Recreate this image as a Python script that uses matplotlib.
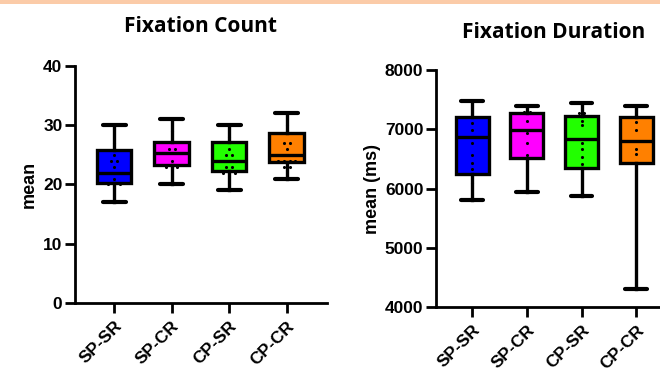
import numpy as np
import matplotlib
matplotlib.use("Agg")
import matplotlib.pyplot as plt
from matplotlib.patches import Rectangle

plt.rcParams["font.family"] = ["Liberation Sans", "DejaVu Sans"]

conditions = ["SP-SR", "SP-CR", "CP-SR", "CP-CR"]
box_colors = ["#0000FF", "#FF00FF", "#22FF00", "#FF8000"]

# Fixation count: box stats per condition
count_low = [17, 20, 19, 21]
count_q1 = [20.2, 23.3, 22.3, 23.8]
count_med = [22.0, 25.3, 24.0, 24.9]
count_q3 = [25.8, 27.2, 27.2, 28.7]
count_high = [30, 31, 30, 32]
count_points = [
    [17, 20, 20, 20, 21, 23, 24, 24, 25, 27, 30],
    [20, 23, 23, 23, 24, 26, 26, 29, 31],
    [19, 22, 22, 22, 23, 23, 25, 25, 26, 28, 30],
    [21, 23, 23, 24, 24, 24, 24, 26, 27, 27, 30, 32],
]

# Fixation duration (ms): box stats per condition
dur_low = [5800, 5937, 5881, 4310]
dur_q1 = [6250, 6514, 6345, 6429]
dur_med = [6870, 6983, 6842, 6802]
dur_q3 = [7210, 7277, 7220, 7210]
dur_high = [7475, 7395, 7446, 7395]
dur_points = [
    [5800, 6096, 6333, 6429, 6559, 6768, 6983, 7113, 7475],
    [5937, 6560, 6770, 6940, 7140, 7300, 7300, 7395],
    [5881, 6420, 6540, 6670, 6770, 7070, 7140, 7270, 7270, 7446],
    [4310, 6580, 6670, 6983, 7130, 7230, 7250, 7395],
]

LW = 2.4
TICK_FS = 12.5
TITLE_FONT = ["Open Sans", "DejaVu Sans"]


def spread(values, step=0.1):
    # spread identical values sideways so the dots stay visible
    values = np.asarray(values, dtype=float)
    offs = np.zeros(len(values))
    for v in np.unique(values):
        idx = np.where(values == v)[0]
        offs[idx] = (np.arange(len(idx)) - (len(idx) - 1) / 2) * step
    return offs


def draw_panel(ax, lows, q1s, meds, q3s, highs, points, yticks):
    stats = []
    for lo, q1, med, q3, hi in zip(lows, q1s, meds, q3s, highs):
        stats.append(dict(whislo=lo, q1=q1, med=med, q3=q3, whishi=hi, fliers=[]))
    pos = np.arange(len(stats))
    res = ax.bxp(stats, positions=pos, widths=0.6, capwidths=0.4,
                 patch_artist=True, showfliers=False,
                 boxprops=dict(linewidth=LW, edgecolor="black"),
                 whiskerprops=dict(linewidth=LW, color="black"),
                 capprops=dict(linewidth=LW + 0.6, color="black", solid_capstyle="round"),
                 medianprops=dict(linewidth=LW, color="black"))
    for patch, c in zip(res["boxes"], box_colors):
        patch.set_facecolor(c)
    for i, vals in enumerate(points):
        ax.scatter(i + spread(vals), vals, s=5, color="black", zorder=5, linewidths=0)

    ax.set_xticks(pos)
    ax.set_xticklabels(conditions, rotation=45, ha="right", rotation_mode="anchor",
                       fontsize=TICK_FS, fontweight="bold")
    ax.set_yticks(yticks)
    ax.set_yticklabels([str(t) for t in yticks], fontsize=TICK_FS, fontweight="bold")
    for side in ["top", "right"]:
        ax.spines[side].set_visible(False)
    for side in ["left", "bottom"]:
        ax.spines[side].set_linewidth(2.0)
    ax.tick_params(axis="both", width=2.0, length=7, pad=2)
    ax.tick_params(axis="x", pad=4)


fig = plt.figure(figsize=(6.6, 3.69), dpi=100)
fig.patches.append(Rectangle((0, 1 - 4 / 369), 1, 4 / 369, transform=fig.transFigure,
                             facecolor="#FBCBA8", edgecolor="none"))

ax1 = fig.add_axes([0.1136, 0.1789, 0.3819, 0.6423])
draw_panel(ax1, count_low, count_q1, count_med, count_q3, count_high, count_points,
           [0, 10, 20, 30, 40])
ax1.set_xlim(-0.68, 3.70)
ax1.set_ylim(0, 40)
ax1.set_ylabel("mean", fontsize=13, fontweight="bold", labelpad=4)
fig.text(201 / 660, 1 - 26 / 369, "Fixation Count", ha="center", va="center",
         fontsize=15, fontweight="bold", family=TITLE_FONT)

ax2 = fig.add_axes([0.6606, 0.168, 0.3614, 0.642])
draw_panel(ax2, dur_low, dur_q1, dur_med, dur_q3, dur_high, dur_points,
           [4000, 5000, 6000, 7000, 8000])
ax2.set_xlim(-0.66, 3.70)
ax2.set_ylim(4000, 8000)
ax2.set_ylabel("mean (ms)", fontsize=13, fontweight="bold", labelpad=3)
fig.text(554 / 660, 1 - 33 / 369, "Fixation Duration", ha="center", va="center",
         fontsize=15, fontweight="bold", family=TITLE_FONT)

fig.savefig("out.png", dpi=100)
